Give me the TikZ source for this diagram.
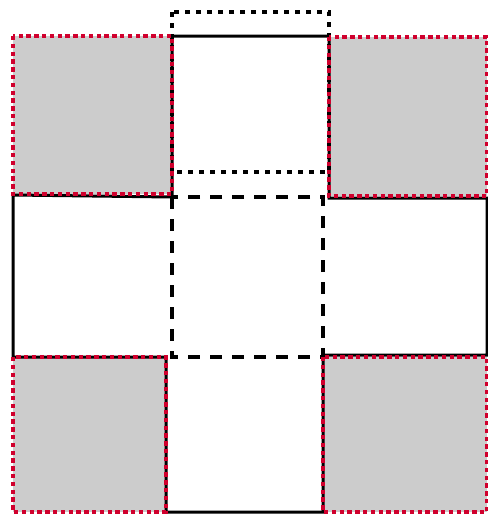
\documentclass[tikz,border=0pt]{standalone}
\usetikzlibrary{calc}
\definecolor{facegray}{RGB}{204,204,204}
\definecolor{edgered}{RGB}{208,0,45}
\tikzset{
  solidedge/.style={draw=black,line width=3pt,line cap=rect},
  redborder/.style={draw=edgered,line width=3.4pt,dash pattern=on 4.4pt off 3.4pt},
  grayface/.style={fill=facegray,draw=none},
  dotbox/.style={draw=black,line width=3.4pt,dash pattern=on 5pt off 6pt},
  dashbox/.style={draw=black,line width=3.4pt,dash pattern=on 12pt off 10pt}
}
\begin{document}
\begin{tikzpicture}[x=1pt,y=-1pt]
\useasboundingbox (0,0) rectangle (488,515);
% corner coordinates
\coordinate (tlA) at (13,36);  \coordinate (tlB) at (172,194);
\coordinate (trA) at (329,37); \coordinate (trB) at (487,196);
\coordinate (blA) at (13,357); \coordinate (blB) at (166,512);
\coordinate (brA) at (323,357); \coordinate (brB) at (487,512);
% gray faces
\fill[grayface] (tlA) rectangle (tlB);
\fill[grayface] (trA) rectangle (trB);
\fill[grayface] (blA) rectangle (blB);
\fill[grayface] (brA) rectangle (brB);
% solid black outline
\coordinate (p1) at (172,36);
\coordinate (p2) at (329,36);
\coordinate (p3) at (329,198);
\coordinate (p4) at (487,198);
\coordinate (p5) at (487,355);
\coordinate (p6) at (323,355);
\coordinate (p7) at (323,512);
\coordinate (p8) at (166,512);
\coordinate (p9) at (166,357);
\coordinate (p10) at (13,357);
\coordinate (p11) at (13,195);
\coordinate (p12) at (172,197);
\draw[solidedge] (p1) -- (p2) -- (p3) -- (p4) -- (p5) -- (p6) -- (p7) -- (p8) -- (p9) -- (p10) -- (p11) -- (p12) -- cycle;
% dotted and dashed boxes
\coordinate (dtA) at (172,12); \coordinate (dtB) at (329,172);
\draw[dotbox] (dtA) rectangle (dtB);
\coordinate (dsA) at (172,197); \coordinate (dsB) at (323,357);
\draw[dashbox] (dsA) rectangle (dsB);
% red dotted borders
\draw[redborder] (tlA) rectangle (tlB);
\draw[redborder] (trA) rectangle (trB);
\draw[redborder] (blA) rectangle (blB);
\draw[redborder] (brA) rectangle (brB);
\end{tikzpicture}
\end{document}
